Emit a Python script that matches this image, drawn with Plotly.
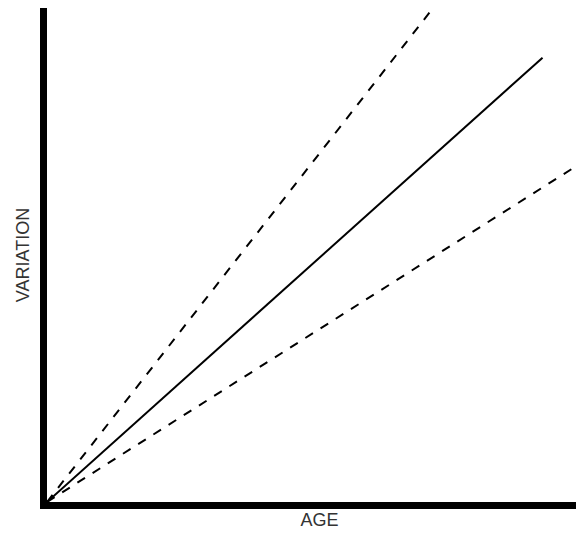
import plotly.graph_objects as go

# end points of each line (age, variation), all start at origin
upper_x = [0, 381]
upper_y = [0, 495]
middle_x = [0, 491]
middle_y = [0, 447]
lower_x = [0, 540]
lower_y = [0, 348]

fig = go.Figure()
fig.add_trace(go.Scatter(x=upper_x, y=upper_y, mode="lines",
                         line=dict(color="black", width=2, dash="dash")))
fig.add_trace(go.Scatter(x=middle_x, y=middle_y, mode="lines",
                         line=dict(color="black", width=2)))
fig.add_trace(go.Scatter(x=lower_x, y=lower_y, mode="lines",
                         line=dict(color="black", width=2, dash="dash")))

fig.update_layout(
    width=584, height=534,
    margin=dict(l=39, r=0, t=0, b=40),
    plot_bgcolor="white", paper_bgcolor="white",
    showlegend=False,
    font=dict(family="Liberation Sans, Arial", size=15, color="#333"),
)
fig.update_xaxes(range=[0, 540], showgrid=False, zeroline=False, showticklabels=False,
                 showline=True, linecolor="black", linewidth=7,
                 title=dict(text="AGE", standoff=8))
fig.update_yaxes(range=[0, 497], showgrid=False, zeroline=False, showticklabels=False,
                 showline=True, linecolor="black", linewidth=7,
                 title=dict(text="VARIATION", standoff=8))

fig.write_html("out.html")
